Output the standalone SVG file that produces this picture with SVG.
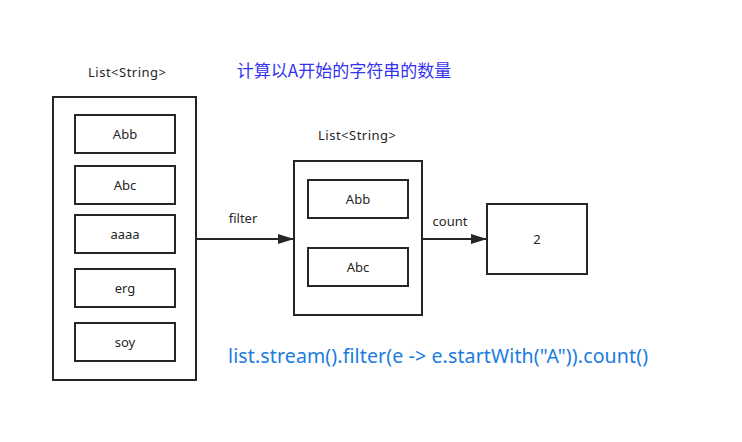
<svg xmlns="http://www.w3.org/2000/svg" width="742" height="442" viewBox="0 0 742 442">
<style>
.box{fill:#fff;stroke:#262626;stroke-width:2}
.t{font-family:"Noto Sans","Noto Sans CJK SC",sans-serif;font-size:13px;fill:#262626;text-anchor:middle;dominant-baseline:central}
.edge{stroke:#262626;stroke-width:2;fill:none}
</style>
<defs>
<marker id="arr" markerWidth="16" markerHeight="10" refX="16" refY="5" orient="auto" markerUnits="userSpaceOnUse">
<path d="M0,0 L16,5 L0,10 Z" fill="#262626"/>
</marker>
</defs>
<rect width="742" height="442" fill="#fff"/>
<g id="label-list1"><text class="t" x="127" y="72" textLength="78" lengthAdjust="spacing">List&lt;String&gt;</text></g>
<g id="title"><text x="344" y="69" font-family="Noto Sans CJK SC,sans-serif" font-size="17" fill="#3333ee" text-anchor="middle" dominant-baseline="central">计算以A开始的字符串的数量</text></g>
<g id="list1">
<rect class="box" x="53" y="97" width="143" height="283"/>
</g>
<g id="n-abb1"><rect class="box" x="75" y="115" width="100" height="38"/><text class="t" x="125" y="134">Abb</text></g>
<g id="n-abc1"><rect class="box" x="75" y="166" width="100" height="38"/><text class="t" x="125" y="185">Abc</text></g>
<g id="n-aaaa"><rect class="box" x="75" y="215" width="100" height="38"/><text class="t" x="125" y="234">aaaa</text></g>
<g id="n-erg"><rect class="box" x="75" y="269" width="100" height="38"/><text class="t" x="125" y="288">erg</text></g>
<g id="n-soy"><rect class="box" x="75" y="323" width="100" height="38"/><text class="t" x="125" y="342">soy</text></g>
<g id="label-list2"><text class="t" x="357" y="135" textLength="78" lengthAdjust="spacing">List&lt;String&gt;</text></g>
<g id="list2"><rect class="box" x="294" y="161" width="128" height="154"/></g>
<g id="n-abb2"><rect class="box" x="308" y="180" width="100" height="38"/><text class="t" x="358" y="199">Abb</text></g>
<g id="n-abc2"><rect class="box" x="308" y="248" width="100" height="38"/><text class="t" x="358" y="267">Abc</text></g>
<g id="result"><rect class="box" x="487" y="204" width="100" height="70"/><text class="t" x="537" y="239">2</text></g>
<g id="connectors">
<line class="edge" x1="196" y1="239" x2="294" y2="239" marker-end="url(#arr)"/>
<text class="t" x="243" y="218">filter</text>
<line class="edge" x1="422" y1="239" x2="487" y2="239" marker-end="url(#arr)"/>
<text class="t" x="450" y="221">count</text>
</g>
<g id="code"><text x="438" y="355" font-family="Noto Sans,Noto Sans CJK SC,sans-serif" font-size="19.5" fill="#1a7be0" text-anchor="middle" dominant-baseline="central" textLength="420" lengthAdjust="spacing">list.stream().filter(e -&gt; e.startWith("A")).count()</text></g>
</svg>
